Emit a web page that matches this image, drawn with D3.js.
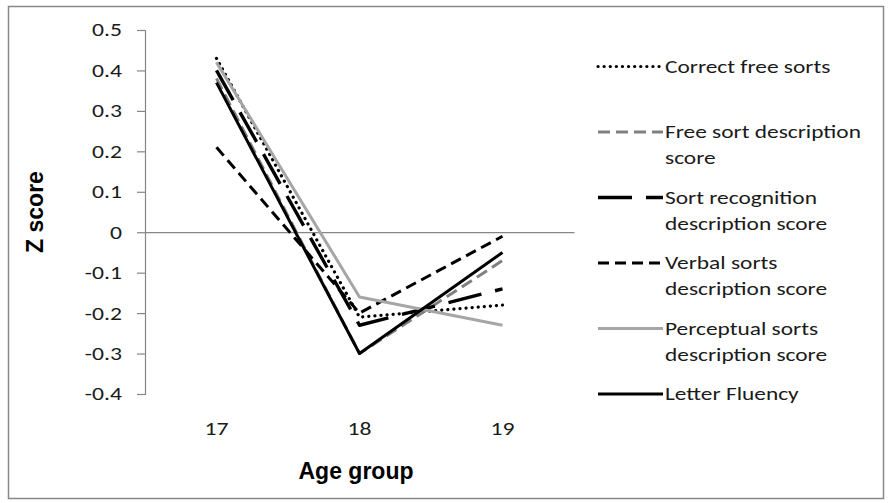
<!DOCTYPE html>
<html>
<head>
<meta charset="utf-8">
<script src="https://cdn.jsdelivr.net/npm/d3@7"></script>
<style>
  html, body { margin: 0; padding: 0; background: #fff; }
  svg { display: block; font-family: Carlito, Lato, "Open Sans", sans-serif; }
</style>
</head>
<body>
<svg id="chart" width="891" height="503"></svg>
<script>
// ---- data ----
const categories = ["17", "18", "19"];
const seriesNames = [
  "Correct free sorts",
  "Free sort description score",
  "Sort recognition description score",
  "Verbal sorts description score",
  "Perceptual sorts description score",
  "Letter Fluency"
];
const legendLines = [
  ["Correct free sorts"],
  ["Free sort description", "score"],
  ["Sort recognition", "description score"],
  ["Verbal sorts", "description score"],
  ["Perceptual sorts", "description score"],
  ["Letter Fluency"]
];
const correctFreeSorts   = [0.43, -0.21, -0.18];
const freeSortDesc       = [0.38, -0.30, -0.07];
const sortRecognition    = [0.40, -0.23, -0.14];
const verbalSorts        = [0.21, -0.20, -0.01];
const perceptualSorts    = [0.42, -0.16, -0.23];
const letterFluency      = [0.37, -0.30, -0.05];
const yTicks = [-0.4, -0.3, -0.2, -0.1, 0, 0.1, 0.2, 0.3, 0.4, 0.5];
const yTickLabels = ["-0.4", "-0.3", "-0.2", "-0.1", "0", "0.1", "0.2", "0.3", "0.4", "0.5"];
const xTitle = "Age group";
const yTitle = "Z score";

const seriesValues = [correctFreeSorts, freeSortDesc, sortRecognition, verbalSorts, perceptualSorts, letterFluency];

// ---- styles ----
const styles = [
  { color: "#000000", dash: "0.1,6", cap: "round", width: 3.2 },
  { color: "#808080", dash: "12,6", cap: "butt", width: 3 },
  { color: "#000000", dash: "34,14", cap: "butt", width: 3.4 },
  { color: "#000000", dash: "11,6", cap: "butt", width: 3 },
  { color: "#a6a6a6", dash: null, cap: "butt", width: 3 },
  { color: "#000000", dash: null, cap: "butt", width: 3 }
];
const TEXT_SX = 1.28;
const LEGEND_SX = 1.23;
const TEXT_COLOR = "#1a1a1a";
const TITLE_FONT = "'Liberation Sans', Arial, sans-serif";

const svg = d3.select("#chart");

// outer border
svg.append("rect")
  .attr("x", 8.5).attr("y", 6.5).attr("width", 875).attr("height", 492)
  .attr("fill", "#fff").attr("stroke", "#888").attr("stroke-width", 1.5);

const x = d3.scaleBand().domain(categories).range([145, 574]);
const y = d3.scaleLinear().domain([-0.4, 0.5]).range([394, 30]);

// y axis
const yAxis = d3.axisLeft(y)
  .tickValues(yTicks)
  .tickFormat((d, i) => yTickLabels[i])
  .tickSize(8);
const gy = svg.append("g").attr("transform", "translate(145,0)").call(yAxis);
gy.select(".domain").attr("stroke", "#868686").attr("stroke-width", 1.2);
gy.selectAll(".tick line").attr("stroke", "#868686").attr("stroke-width", 1.2);
gy.selectAll(".tick text")
  .attr("fill", TEXT_COLOR).attr("font-size", 18.5)
  .attr("font-family", "Carlito, Lato, 'Open Sans', sans-serif")
  .attr("x", -23 / TEXT_SX)
  .attr("transform", `scale(${TEXT_SX},1)`);

// x axis line at zero, labels at the bottom
const xAxis = d3.axisBottom(x).tickSize(0).tickPadding(0);
const gx = svg.append("g").attr("transform", `translate(0,${y(0)})`).call(xAxis);
gx.select(".domain").attr("stroke", "#868686").attr("stroke-width", 1.2);
gx.selectAll(".tick text").remove();
svg.append("g").selectAll("text").data(categories).join("text")
  .attr("transform", d => `translate(${x(d) + x.bandwidth() / 2},429) scale(${TEXT_SX},1)`)
  .attr("text-anchor", "middle").attr("dominant-baseline", "central")
  .attr("font-size", 18.5).attr("fill", TEXT_COLOR)
  .text(d => d);

// titles
svg.append("text").attr("x", 356).attr("y", 471)
  .attr("text-anchor", "middle").attr("dominant-baseline", "central")
  .attr("font-family", TITLE_FONT)
  .attr("font-size", 23).attr("font-weight", "bold").attr("fill", "#000")
  .text(xTitle);
svg.append("text")
  .attr("transform", "translate(35,212) rotate(-90)")
  .attr("text-anchor", "middle").attr("dominant-baseline", "central")
  .attr("font-family", TITLE_FONT)
  .attr("font-size", 23).attr("font-weight", "bold").attr("fill", "#000")
  .text(yTitle);

// lines
const line = d3.line()
  .x((d, i) => x(categories[i]) + x.bandwidth() / 2)
  .y(d => y(d));

seriesValues.forEach((vals, s) => {
  const st = styles[s];
  svg.append("path")
    .attr("d", line(vals))
    .attr("fill", "none")
    .attr("stroke", st.color)
    .attr("stroke-width", st.width)
    .attr("stroke-linecap", st.cap)
    .attr("stroke-linejoin", "round")
    .attr("stroke-dasharray", st.dash);
});

// legend
const legendY0 = 66.5, legendStep = 65.5;
const lg = svg.append("g");
seriesNames.forEach((name, s) => {
  const st = styles[s];
  const ly = legendY0 + s * legendStep;
  lg.append("line")
    .attr("x1", 598).attr("x2", 663).attr("y1", ly).attr("y2", ly)
    .attr("stroke", st.color).attr("stroke-width", st.width)
    .attr("stroke-linecap", st.cap)
    .attr("stroke-dasharray", st.dash);
  const t = lg.append("text")
    .attr("transform", `translate(665,${ly}) scale(${LEGEND_SX},1)`)
    .attr("font-size", 19).attr("fill", TEXT_COLOR)
    .attr("dominant-baseline", "central");
  legendLines[s].forEach((ln, k) => {
    t.append("tspan").attr("x", 0).attr("y", k * 26)
      .attr("dominant-baseline", "central").text(ln);
  });
});
</script>
</body>
</html>
